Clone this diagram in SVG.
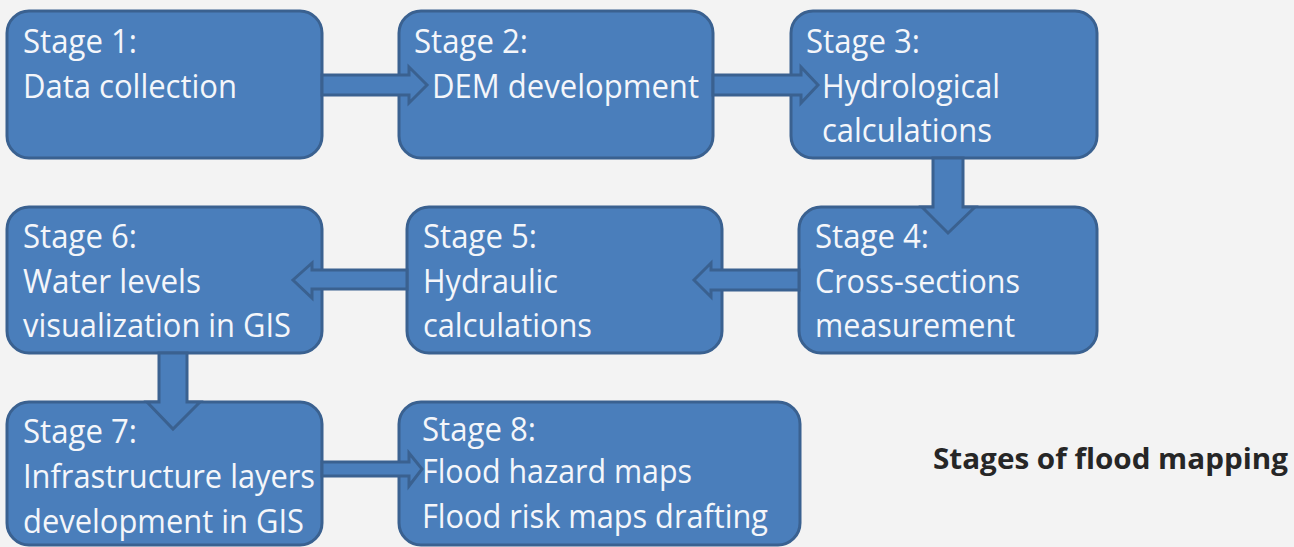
<svg xmlns="http://www.w3.org/2000/svg" width="1294" height="547" viewBox="0 0 1294 547">
<style>
.box{fill:#4A7EBB;stroke:#3A6190;stroke-width:3}
.arr{fill:#4A7EBB;stroke:#3A6190;stroke-width:3;stroke-linejoin:miter}
.t{font-family:"Open Sans","Noto Sans","Liberation Sans",sans-serif;font-size:32.5px;fill:#F4F6FA}
.title{font-family:"Open Sans","Noto Sans","Liberation Sans",sans-serif;font-size:29px;font-weight:bold;fill:#262626}
</style>
<rect width="1294" height="547" fill="#F3F3F3"/>
<g id="stage1">
<rect class="box" x="7" y="11" width="315" height="147" rx="22"/>
<text class="t" x="23" y="53" textLength="114" lengthAdjust="spacingAndGlyphs">Stage 1:</text>
<text class="t" x="23" y="98" textLength="214" lengthAdjust="spacingAndGlyphs">Data collection</text>
</g>
<g id="stage2">
<rect class="box" x="399" y="11" width="314" height="147" rx="22"/>
<text class="t" x="414" y="53" textLength="114" lengthAdjust="spacingAndGlyphs">Stage 2:</text>
<text class="t" x="432" y="98" textLength="267" lengthAdjust="spacingAndGlyphs">DEM development</text>
</g>
<g id="stage3">
<rect class="box" x="791" y="11" width="306" height="147" rx="22"/>
<text class="t" x="806" y="53" textLength="114" lengthAdjust="spacingAndGlyphs">Stage 3:</text>
<text class="t" x="822" y="98" textLength="178" lengthAdjust="spacingAndGlyphs">Hydrological</text>
<text class="t" x="822" y="142" textLength="170" lengthAdjust="spacingAndGlyphs">calculations</text>
</g>
<g id="stage4">
<rect class="box" x="799" y="207" width="298" height="146" rx="22"/>
<text class="t" x="815" y="248" textLength="114" lengthAdjust="spacingAndGlyphs">Stage 4:</text>
<text class="t" x="815" y="293" textLength="205" lengthAdjust="spacingAndGlyphs">Cross-sections</text>
<text class="t" x="815" y="337" textLength="200" lengthAdjust="spacingAndGlyphs">measurement</text>
</g>
<g id="stage5">
<rect class="box" x="407" y="207" width="315" height="146" rx="22"/>
<text class="t" x="423" y="248" textLength="114" lengthAdjust="spacingAndGlyphs">Stage 5:</text>
<text class="t" x="423" y="293" textLength="135" lengthAdjust="spacingAndGlyphs">Hydraulic</text>
<text class="t" x="423" y="337" textLength="169" lengthAdjust="spacingAndGlyphs">calculations</text>
</g>
<g id="stage6">
<rect class="box" x="7" y="207" width="315" height="146" rx="22"/>
<text class="t" x="23" y="248" textLength="114" lengthAdjust="spacingAndGlyphs">Stage 6:</text>
<text class="t" x="23" y="293" textLength="178" lengthAdjust="spacingAndGlyphs">Water levels</text>
<text class="t" x="23" y="337" textLength="268" lengthAdjust="spacingAndGlyphs">visualization in GIS</text>
</g>
<g id="stage7">
<rect class="box" x="7" y="402" width="315" height="143" rx="22"/>
<text class="t" x="23" y="443" textLength="114" lengthAdjust="spacingAndGlyphs">Stage 7:</text>
<text class="t" x="23" y="488" textLength="292" lengthAdjust="spacingAndGlyphs">Infrastructure layers</text>
<text class="t" x="23" y="533" textLength="281" lengthAdjust="spacingAndGlyphs">development in GIS</text>
</g>
<g id="stage8">
<rect class="box" x="399" y="402" width="401" height="143" rx="22"/>
<text class="t" x="422" y="441" textLength="114" lengthAdjust="spacingAndGlyphs">Stage 8:</text>
<text class="t" x="422" y="483" textLength="270" lengthAdjust="spacingAndGlyphs">Flood hazard maps</text>
<text class="t" x="422" y="528" textLength="346" lengthAdjust="spacingAndGlyphs">Flood risk maps drafting</text>
</g>
<g id="connectors">
<polygon class="arr" points="322,75 409,75 409,67 427,85 409,103 409,95 322,95"/>
<polygon class="arr" points="713,75 801,75 801,67 818,85 801,103 801,95 713,95"/>
<polygon class="arr" points="933,158 963,158 963,207 975,207 948,233 922,207 933,207"/>
<polygon class="arr" points="799,270 711,270 711,263 694,280 711,297 711,290 799,290"/>
<polygon class="arr" points="407,270 312,270 312,263 293,280 312,298 312,289 407,289"/>
<polygon class="arr" points="159,353 187,353 187,402 200,402 173,429 147,402 159,402"/>
<polygon class="arr" points="322,462 409,462 409,453 422,469 409,486 409,476 322,476"/>
</g>
<text class="title" x="933" y="469" textLength="355" lengthAdjust="spacingAndGlyphs">Stages of flood mapping</text>
</svg>
